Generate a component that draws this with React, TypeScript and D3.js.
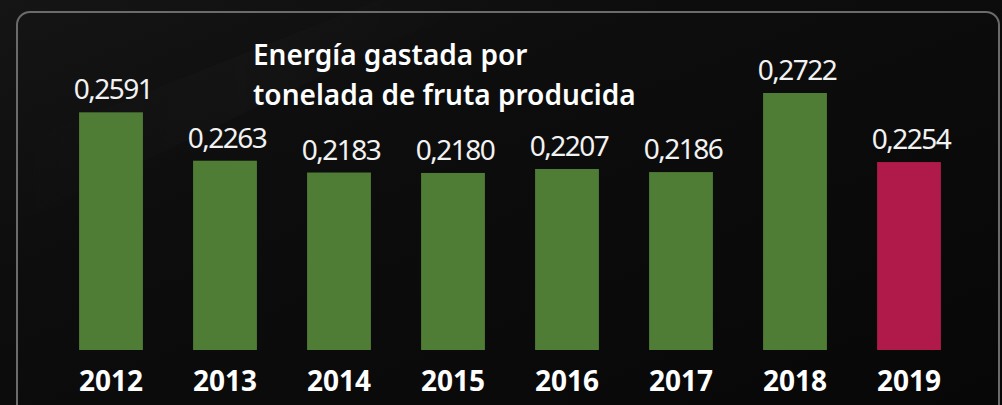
import React from "react";
import * as d3 from "d3";

const years = ["2012", "2013", "2014", "2015", "2016", "2017", "2018", "2019"];
const values = [0.2591, 0.2263, 0.2183, 0.218, 0.2207, 0.2186, 0.2722, 0.2254];
const valueLabels = ["0,2591", "0,2263", "0,2183", "0,2180", "0,2207", "0,2186", "0,2722", "0,2254"];
const titleLines = ["Energía gastada por", "tonelada de fruta producida"];
const highlightYear = "2019";

const W = 1002;
const H = 405;

export default function App() {
  const x = d3.scaleBand<string>().domain(years).range([54, 966]).paddingInner(0.44).paddingOuter(0.22);
  const y = d3.scaleLinear().domain([0.098, 0.2722]).range([350, 93]);
  const font = "'Noto Sans', 'Open Sans', sans-serif";
  return (
    <svg width={W} height={H} style={{ position: "absolute", left: 0, top: 0, display: "block" }}>
      <defs>
        <linearGradient id="bg" x1="0" y1="0" x2="1" y2="1">
          <stop offset="0" stopColor="#151515" />
          <stop offset="0.35" stopColor="#0d0d0d" />
          <stop offset="0.7" stopColor="#0a0a0a" />
          <stop offset="1" stopColor="#070707" />
        </linearGradient>
        <linearGradient id="streak" x1="0" y1="0" x2="1" y2="0">
          <stop offset="0" stopColor="#ffffff" stopOpacity="0" />
          <stop offset="0.5" stopColor="#ffffff" stopOpacity="0.015" />
          <stop offset="1" stopColor="#ffffff" stopOpacity="0" />
        </linearGradient>
      </defs>
      <rect x={0} y={0} width={W} height={H} fill="url(#bg)" />
      <polygon points="0,150 380,0 480,0 0,230" fill="url(#streak)" />
      <rect x={17} y={12} width={982} height={420} rx={13} ry={13} fill="none" stroke="#6b6b6b" strokeWidth={2} />
      {years.map((yr, i) => {
        const bx = x(yr) as number;
        const top = y(values[i]);
        const cx = bx + x.bandwidth() / 2;
        return (
          <g key={yr}>
            <rect x={bx} y={top} width={x.bandwidth()} height={350 - top} fill={yr === highlightYear ? "#b01a4a" : "#507d36"} />
            <text x={cx + 2} y={top - 13} textAnchor="middle" fill="#f2f2f2" fontFamily={font} fontSize={28} letterSpacing={-1.5}>
              {valueLabels[i]}
            </text>
            <text x={cx} y={391} textAnchor="middle" fill="#ffffff" fontFamily={font} fontSize={28} fontWeight={700}>
              {yr}
            </text>
          </g>
        );
      })}
      {titleLines.map((t, i) => (
        <text key={i} x={253} y={65 + i * 40} fill="#ffffff" fontFamily={font} fontSize={28} fontWeight={600}>
          {t}
        </text>
      ))}
    </svg>
  );
}
